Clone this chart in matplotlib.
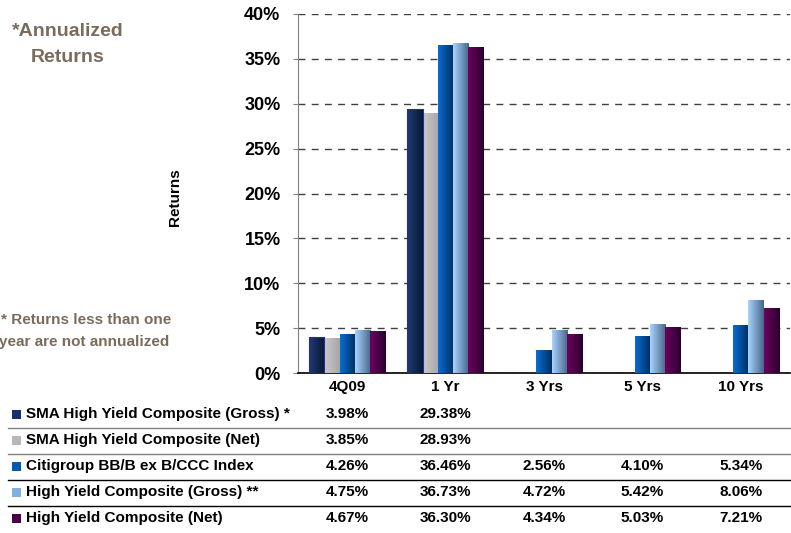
import matplotlib

matplotlib.use("Agg")

import matplotlib.pyplot as plt
import matplotlib.transforms as mtransforms
import numpy as np
from matplotlib.colors import LinearSegmentedColormap
from matplotlib.lines import Line2D
from matplotlib.patches import Rectangle

plt.rcParams["font.family"] = ["Liberation Sans", "DejaVu Sans"]
plt.rcParams["font.weight"] = "bold"

periods = ["4Q09", "1 Yr", "3 Yrs", "5 Yrs", "10 Yrs"]
series_names = [
    "SMA High Yield Composite (Gross) *",
    "SMA High Yield Composite (Net)",
    "Citigroup BB/B ex B/CCC Index",
    "High Yield Composite (Gross) **",
    "High Yield Composite (Net)",
]
sma_gross = [3.98, 29.38, None, None, None]
sma_net = [3.85, 28.93, None, None, None]
citigroup = [4.26, 36.46, 2.56, 4.10, 5.34]
hy_gross = [4.75, 36.73, 4.72, 5.42, 8.06]
hy_net = [4.67, 36.30, 4.34, 5.03, 7.21]
all_series = [sma_gross, sma_net, citigroup, hy_gross, hy_net]
y_ticks = [0, 5, 10, 15, 20, 25, 30, 35, 40]

# left -> right shading for each series
gradients = [
    ("#1f3b70", "#081833"),
    ("#cacaca", "#a6a6a6"),
    ("#0a6cd4", "#002f5e"),
    ("#a9d2ff", "#47678a"),
    ("#6c005e", "#2a002e"),
]
legend_colors = ["#16306a", "#b8b8b8", "#0558b0", "#80b0e0", "#4a0048"]

fig = plt.figure(figsize=(7.91, 5.33), dpi=100)
ax = fig.add_axes([298 / 791, 1 - 373 / 533, 492 / 791, 359 / 533])

n = len(all_series)
x = np.arange(len(periods))
width = 0.155
offsets = (np.arange(n) - (n - 1) / 2) * width

for idx, values in enumerate(all_series):
    vals = np.array([np.nan if v is None else v for v in values], dtype=float)
    bars = ax.bar(x + offsets[idx], np.nan_to_num(vals), width, color="none",
                  zorder=3, linewidth=0)
    cmap = LinearSegmentedColormap.from_list(f"g{idx}", gradients[idx])
    grad = np.linspace(0, 1, 64).reshape(1, -1)
    for bar, v in zip(bars, vals):
        if np.isnan(v):
            continue
        x0 = bar.get_x()
        ax.imshow(grad, cmap=cmap, aspect="auto", zorder=3,
                  extent=(x0, x0 + bar.get_width(), 0, v))
        if idx == 0:
            ax.add_patch(Rectangle((x0, 0), bar.get_width(), v, fill=False,
                                   edgecolor="#2a2aa0", linewidth=0.8, zorder=4))

ax.set_xlim(-0.5, len(periods) - 0.5)
ax.set_ylim(0, 40)
ax.set_yticks(y_ticks)
ax.set_yticklabels([f"{t}%" for t in y_ticks], fontsize=13, fontweight="bold")
ax.set_xticks(x)
ax.set_xticklabels(periods, fontsize=11, fontweight="bold")
ax.tick_params(axis="x", length=0, pad=5)
ax.tick_params(axis="y", length=3.6, color="#808080", pad=9)
ax.grid(axis="y", linestyle=(0, (5, 4.5)), color="#404040", linewidth=1.0, zorder=0)
ax.set_axisbelow(True)
for side in ("top", "right"):
    ax.spines[side].set_visible(False)
ax.spines["left"].set_color("#808080")
ax.spines["bottom"].set_color("black")
ax.spines["bottom"].set_linewidth(1.2)

ax.set_ylabel("Returns", fontsize=11, fontweight="bold")
ax.yaxis.set_label_coords(-0.235, 0.49)

title_color = "#7a6c5c"
fig.text(68 / 791, 1 - 32 / 533, "*Annualized", fontsize=14, color=title_color,
         ha="center", va="center", fontweight="bold")
fig.text(68 / 791, 1 - 58 / 533, "Returns", fontsize=14, color=title_color,
         ha="center", va="center", fontweight="bold")
fig.text(86 / 791, 1 - 320 / 533, "* Returns less than one", fontsize=11,
         color=title_color, ha="center", va="center", fontweight="bold")
fig.text(84 / 791, 1 - 342 / 533, "year are not annualized", fontsize=11,
         color=title_color, ha="center", va="center", fontweight="bold")

# data table under the chart
blend = mtransforms.blended_transform_factory(ax.transData, fig.transFigure)
row_y = [414, 440, 466, 492, 518]
for idx, values in enumerate(all_series):
    yf = 1 - row_y[idx] / 533
    fig.patches.append(Rectangle((12 / 791, yf - 4.5 / 533), 9 / 791, 9 / 533,
                                 transform=fig.transFigure, facecolor=legend_colors[idx],
                                 edgecolor="none"))
    fig.text(26 / 791, yf, series_names[idx], fontsize=11, fontweight="bold",
             ha="left", va="center")
    for j, v in enumerate(values):
        if v is None:
            continue
        fig.text(x[j], yf, f"{v:.2f}%", transform=blend, fontsize=11,
                 fontweight="bold", ha="center", va="center")

line_y = [428, 454, 480, 506]
line_colors = ["#808080", "#808080", "#000000", "#000000"]
for ly, lc in zip(line_y, line_colors):
    fig.add_artist(Line2D([8 / 791, 790 / 791], [1 - ly / 533] * 2,
                          transform=fig.transFigure, color=lc, linewidth=1.0))

fig.savefig("out.png", dpi=100)
